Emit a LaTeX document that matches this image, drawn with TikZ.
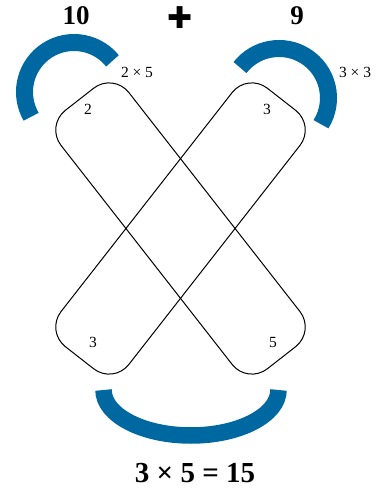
\documentclass[tikz,border=0pt]{standalone}
\usepackage{fontspec}
\setmainfont{Liberation Serif}
\newfontfamily\symfont{DejaVu Sans}
\definecolor{arcblue}{RGB}{0,104,160}
\begin{document}
\begin{tikzpicture}[x=1pt,y=1pt,
  band/.style={draw=black, line width=1pt, rectangle, inner sep=0pt,
    minimum width=328pt, minimum height=86pt, rounded corners=25pt},
  bluearc/.style={draw=arcblue, line width=17pt},
  bigtxt/.style={font=\fontsize{27}{30}\selectfont\bfseries, anchor=base, inner sep=0pt},
  smalltxt/.style={font=\fontsize{15.5}{18}\selectfont, anchor=base, inner sep=0pt}]
\useasboundingbox (0,0) rectangle (379,490);
% bands
\node[band, rotate=-52] (bandA) at (180.5,261.5) {};
\node[band, rotate=52] (bandB) at (180.5,261.5) {};
% blue arcs
\draw[bluearc] (112.47,429.15) arc[start angle=39, end angle=210, radius=49.5];
\draw[bluearc] ({279+49.5*cos(-32)},{392+49.5*sin(-32)}) arc[start angle=-32, end angle=142, radius=49.5];
\draw[bluearc, line width=16.5pt] (103.5,100) arc[start angle=180, end angle=360, x radius=87.5, y radius=45.5];
% top texts
\node[bigtxt] (ten) at (76,465) {10};
\node[bigtxt] (nine) at (297,465) {9};
\node[font=\symfont\fontsize{30}{34}\selectfont, inner sep=0pt] (plus) at (180.5,472.5) {✚};
% small labels
\node[smalltxt] (lprod) at (137,412) {2 × 5};
\node[smalltxt] (rprod) at (355,412) {3 × 3};
\node[smalltxt] (tl) at (88,375) {2};
\node[smalltxt] (tr) at (267,375) {3};
\node[smalltxt] (bl) at (93,142) {3};
\node[smalltxt] (br) at (273,142) {5};
% bottom result
\node[font=\fontsize{29}{33}\selectfont\bfseries, anchor=base, inner sep=0pt] (res) at (195,8) {3 × 5 = 15};
\end{tikzpicture}
\end{document}
